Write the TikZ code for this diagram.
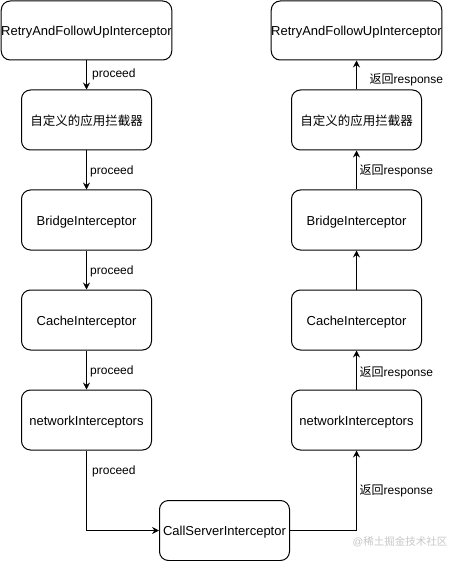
\documentclass[tikz,border=0pt]{standalone}
\usepackage{fontspec}
\setmainfont{Liberation Sans}
\newfontfamily\cjk{Noto Sans CJK SC}
\usetikzlibrary{arrows.meta}
\begin{document}
\begin{tikzpicture}[x=1pt,y=-1pt,
  box/.style={draw=black,line width=1pt,rounded corners=9pt,minimum width=130pt,minimum height=60pt,inner sep=0pt,text height=13.3pt,text depth=2.7pt,font=\fontsize{13}{15}\selectfont},
  widebox/.style={box,minimum width=170pt,minimum height=59pt},
  lbl/.style={anchor=west,inner sep=0pt,font=\fontsize{12}{14}\selectfont},
  arr/.style={draw=black,line width=1pt,-{Stealth[length=7pt,width=7pt,inset=2.5pt]}}]
\useasboundingbox (0,0) rectangle (452,561);
% left column
\node[widebox] (L1) at (86.5,30.5) {RetryAndFollowUpInterceptor};
\node[box] (L2) at (86.5,120) {\fontsize{12.5}{15}\cjk 自定义的应用拦截器};
\node[box] (L3) at (86.5,220) {BridgeInterceptor};
\node[box] (L4) at (86.5,320) {CacheInterceptor};
\node[box] (L5) at (86.5,420) {networkInterceptors};
% bottom
\node[box] (CS) at (224.5,530.5) {CallServerInterceptor};
% right column
\node[widebox] (R1) at (356.5,30.5) {RetryAndFollowUpInterceptor};
\node[box] (R2) at (356.5,120) {\fontsize{12.5}{15}\cjk 自定义的应用拦截器};
\node[box] (R3) at (356.5,220) {BridgeInterceptor};
\node[box] (R4) at (356.5,320) {CacheInterceptor};
\node[box] (R5) at (356.5,420) {networkInterceptors};
% left arrows
\draw[arr] (L1.south) -- (L2.north);
\draw[arr] (L2.south) -- (L3.north);
\draw[arr] (L3.south) -- (L4.north);
\draw[arr] (L4.south) -- (L5.north);
\draw[arr] (L5.south) |- (CS.west);
\node[lbl] (p1) at (92,74.3) {proceed};
\node[lbl] (p2) at (90,171.3) {proceed};
\node[lbl] (p3) at (90,271.3) {proceed};
\node[lbl] (p4) at (90,371.3) {proceed};
\node[lbl] (p5) at (92,471.3) {proceed};
% right arrows
\draw[arr] (CS.east) -| (R5.south);
\draw[arr] (R5.north) -- (R4.south);
\draw[arr] (R4.north) -- (R3.south);
\draw[arr] (R3.north) -- (R2.south);
\draw[arr] (R2.north) -- (R1.south);
\node[lbl] (r1) at (369.5,79.5) {{\cjk 返回}response};
\node[lbl] (r2) at (359.5,171) {{\cjk 返回}response};
\node[lbl] (r4) at (359.5,372.5) {{\cjk 返回}response};
\node[lbl] (r5) at (359.5,491) {{\cjk 返回}response};
% watermark
\node[anchor=west,inner sep=0pt,text=black!22,font=\fontsize{10.5}{12}\selectfont] (wm) at (352.5,541.5) {@{\cjk 稀土掘金技术社区}};
\end{tikzpicture}
\end{document}
